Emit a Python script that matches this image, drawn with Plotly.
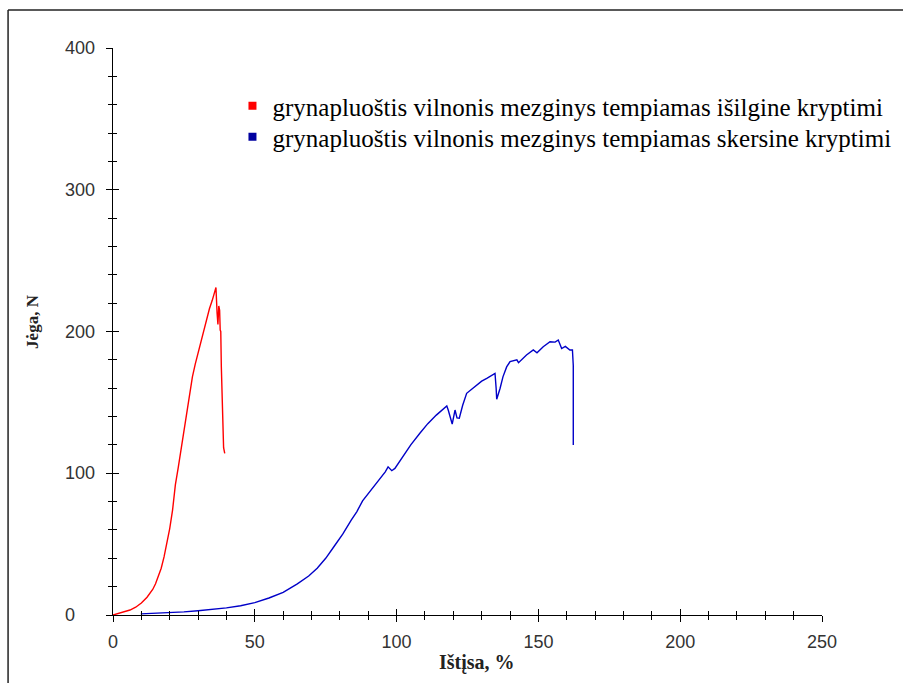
import plotly.graph_objects as go

# ---- data ----
red_name = "grynapluoštis vilnonis mezginys tempiamas išilgine kryptimi"
blue_name = "grynapluoštis vilnonis mezginys tempiamas skersine kryptimi"

red_x = [0, 2, 4, 6, 8, 10, 12, 14, 15, 16, 17, 18, 19, 20, 21, 22, 23, 24, 25, 26,
         26.5, 27, 28, 29, 30, 31, 32, 33, 34, 35, 36, 36.3, 36.7, 37, 37.3, 37.6,
         37.8, 38.0, 38.2, 38.5, 38.8, 39.0, 39.4]
red_y = [0, 1, 2, 3.5, 5.5, 8.5, 12.5, 18, 22, 27, 33, 41, 50, 61, 74, 92, 104, 117, 130, 145,
         150, 157, 168, 177, 185, 193, 201, 208, 216, 222, 228, 231, 213, 205, 218, 215,
         201, 200, 175, 148, 130, 118, 114]

blue_x = [9.8, 15, 20, 25, 30, 35, 40, 45, 50, 55, 60, 65, 69, 72, 75, 78, 81, 84, 86, 88,
          91, 94, 96, 97, 98.3, 99.4, 101, 102.4, 105, 108.2, 111, 114, 117.7, 118.2, 119,
          119.6, 120.6, 121.3, 122.1, 123.3, 124.7, 127, 130, 131.8, 134.7, 135.1, 135.3,
          136.5, 137.5, 138.8, 140, 142.4, 143, 145.8, 148.2, 149.5, 151.7, 154.1, 155.9,
          157, 158.2, 159.5, 161.1, 162, 162.3, 162.3]
blue_y = [0.8, 1.2, 1.5, 2.2, 3, 3.8, 5, 6.5, 8.7, 12, 16, 22, 27.5, 33, 40, 48.5, 57, 67, 73, 80.5,
          88, 96, 101, 104.5, 101.8, 103.4, 108, 112.9, 120, 128.2, 135, 141, 147.4, 144.6, 139,
          134.7, 144.6, 139, 138.8, 148, 156.4, 160, 165, 167, 170.5, 160, 152.2,
          160, 168, 175, 178.7, 180, 178, 183.4, 187, 185, 189.3, 192.8, 192.5,
          194, 188, 189.5, 187, 187, 176, 120]

x_ticks = [0, 50, 100, 150, 200, 250]
y_ticks = [0, 100, 200, 300, 400]
x_title = "Ištįsa, %"
y_title = "Jėga, N"

RED = "#ff0000"
BLUE = "#0000c8"

fig = go.Figure()
fig.add_trace(go.Scatter(x=red_x, y=red_y, mode="lines", line=dict(color=RED, width=1.4),
                         showlegend=False))
fig.add_trace(go.Scatter(x=blue_x, y=blue_y, mode="lines", line=dict(color=BLUE, width=1.4),
                         showlegend=False))
# legend entries (square markers), one legend each so spacing can follow the reference
fig.add_trace(go.Scatter(x=[None], y=[None], mode="markers", name=red_name,
                         marker=dict(symbol="square", size=8, color=RED),
                         xaxis="x2", yaxis="y2", legend="legend"))
fig.add_trace(go.Scatter(x=[None], y=[None], mode="markers", name=blue_name,
                         marker=dict(symbol="square", size=8, color="#0000a0"),
                         xaxis="x2", yaxis="y2", legend="legend2"))

tickfont = dict(family="Liberation Sans", size=18, color="#333333")
common = dict(showgrid=False, zeroline=False)
legfont = dict(family="Liberation Serif", size=25, color="black")

fig.update_layout(
    width=903, height=683,
    margin=dict(l=113, r=81, t=48, b=68, autoexpand=False),
    paper_bgcolor="white", plot_bgcolor="white",
    xaxis=dict(range=[0, 250], tickvals=x_ticks, ticks="outside", ticklen=6,
               tickwidth=1, tickcolor="black", showline=True, linecolor="black", linewidth=1,
               ticklabelstandoff=4,
               minor=dict(dtick=10, ticks="outside", ticklen=4, tickcolor="black", tickwidth=1),
               tickfont=tickfont, **common),
    yaxis=dict(range=[0, 400], tickvals=y_ticks, ticks="outside", ticklen=6, tickwidth=1,
               tickcolor="black", showline=True, linecolor="black", linewidth=1,
               showticklabels=False,
               minor=dict(dtick=20, ticks="outside", ticklen=4, tickcolor="black", tickwidth=1),
               **common),
    xaxis2=dict(range=[0, 250], overlaying="x", anchor="y2", side="bottom",
                tickvals=x_ticks, ticks="inside", ticklen=6, tickcolor="black", tickwidth=1,
                showticklabels=False, showline=False,
                minor=dict(dtick=10, ticks="inside", ticklen=4, tickcolor="black", tickwidth=1),
                **common),
    yaxis2=dict(range=[0, 400], overlaying="y", anchor="x2", side="left",
                tickvals=y_ticks, ticks="inside", ticklen=6, tickcolor="black", tickwidth=1,
                showticklabels=False, showline=False,
                minor=dict(dtick=20, ticks="inside", ticklen=4, tickcolor="black", tickwidth=1),
                **common),
    legend=dict(x=0.1685, y=0.8977, xanchor="left", yanchor="middle",
                bgcolor="rgba(0,0,0,0)", font=legfont),
    legend2=dict(x=0.1685, y=0.843, xanchor="left", yanchor="middle",
                 bgcolor="rgba(0,0,0,0)", font=legfont),
    showlegend=True,
)

annotations = []
for v in y_ticks:
    annotations.append(dict(x=-0.0705, y=v, xref="paper", yref="y", text=str(v),
                            xanchor="left", yanchor="middle", showarrow=False,
                            font=tickfont))
annotations.append(dict(x=0.5134, y=-0.083, xref="paper", yref="paper", text=f"<b>{x_title}</b>",
                        xanchor="center", yanchor="middle", showarrow=False,
                        font=dict(family="Liberation Serif", size=20, color="#222222")))
annotations.append(dict(x=-0.1128, y=0.517, xref="paper", yref="paper", text=f"<b>{y_title}</b>",
                        textangle=-90, xanchor="center", yanchor="middle", showarrow=False,
                        font=dict(family="Liberation Serif", size=17, color="#222222")))
fig.update_layout(annotations=annotations)

# outer frame (left and top edges visible in the reference)
fig.add_shape(type="line", xref="paper", yref="paper", x0=-0.148, x1=-0.148, y0=1.067, y1=-0.2,
              line=dict(color="#222222", width=1.5))
fig.add_shape(type="line", xref="paper", yref="paper", x0=-0.148, x1=1.2, y0=1.067, y1=1.067,
              line=dict(color="#222222", width=1.5))

fig.write_html("out.html")
